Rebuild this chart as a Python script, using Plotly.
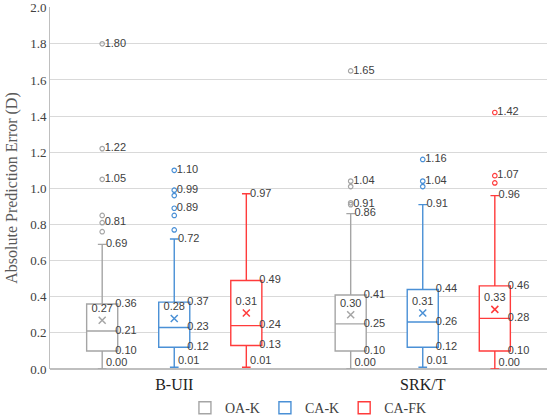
import plotly.graph_objects as go

# Data
groups = ["B-UII", "SRK/T"]
series = ["OA-K", "CA-K", "CA-FK"]
colors = {"OA-K": "#a5a5a5", "CA-K": "#4a90d6", "CA-FK": "#ff3b3b"}
y_ticks = [0.0, 0.2, 0.4, 0.6, 0.8, 1.0, 1.2, 1.4, 1.6, 1.8, 2.0]

lows = {"OA-K": [0.00, 0.00], "CA-K": [0.01, 0.01], "CA-FK": [0.01, 0.00]}
q1s = {"OA-K": [0.10, 0.10], "CA-K": [0.12, 0.12], "CA-FK": [0.13, 0.10]}
medians = {"OA-K": [0.21, 0.25], "CA-K": [0.23, 0.26], "CA-FK": [0.24, 0.28]}
q3s = {"OA-K": [0.36, 0.41], "CA-K": [0.37, 0.44], "CA-FK": [0.49, 0.46]}
highs = {"OA-K": [0.69, 0.86], "CA-K": [0.72, 0.91], "CA-FK": [0.97, 0.96]}
means = {"OA-K": [0.27, 0.30], "CA-K": [0.28, 0.31], "CA-FK": [0.31, 0.33]}

outliers = {
    "OA-K": [[0.76, 0.81, 0.85, 1.05, 1.22, 1.80], [0.91, 0.92, 1.01, 1.04, 1.65]],
    "CA-K": [[0.77, 0.85, 0.89, 0.96, 0.99, 1.10], [1.01, 1.04, 1.16]],
    "CA-FK": [[], [1.03, 1.07, 1.42]],
}
outlier_labels = {
    "OA-K": [[0.81, 1.05, 1.22, 1.80], [0.91, 1.04, 1.65]],
    "CA-K": [[0.89, 0.99, 1.10], [1.04, 1.16]],
    "CA-FK": [[], [1.07, 1.42]],
}

# layout of the boxes inside each category
spacing = 0.29
box_w = 0.125
lab_font = dict(family="Liberation Sans, Arial", size=11, color="#404040")

fig = go.Figure()

for k, s in enumerate(series):
    col = colors[s]
    xs = [g + (k - 1) * spacing for g in range(len(groups))]

    fig.add_trace(go.Box(
        x=xs, q1=q1s[s], median=medians[s], q3=q3s[s],
        lowerfence=lows[s], upperfence=highs[s],
        name=s, width=box_w, whiskerwidth=0.28,
        line=dict(color=col, width=1.4), fillcolor="white",
        boxpoints=False, hoverinfo="skip",
    ))

    # mean markers and labels
    fig.add_trace(go.Scatter(
        x=xs, y=means[s], mode="markers+text",
        marker=dict(symbol="x-thin-open", size=7, color=col, line=dict(color=col, width=1.5)),
        text=[f"{v:.2f}" for v in means[s]], textposition="top center",
        textfont=lab_font, showlegend=False, cliponaxis=False, hoverinfo="skip",
    ))

    # outliers
    ox, oy = [], []
    lx, ly = [], []
    for g, x in enumerate(xs):
        ox += [x] * len(outliers[s][g])
        oy += outliers[s][g]
        lx += [x] * len(outlier_labels[s][g])
        ly += outlier_labels[s][g]
    fig.add_trace(go.Scatter(
        x=ox, y=oy, mode="markers",
        marker=dict(symbol="circle-open", size=4.5, color=col, line=dict(width=1.2)),
        showlegend=False, hoverinfo="skip",
    ))
    fig.add_trace(go.Scatter(
        x=[x + 0.01 for x in lx], y=ly, mode="text",
        text=[f"{v:.2f}" for v in ly], textposition="middle right",
        textfont=lab_font, showlegend=False, cliponaxis=False, hoverinfo="skip",
    ))

    # whisker end labels
    wx = [x + 0.015 for x in xs] * 2
    wy = highs[s] + lows[s]
    fig.add_trace(go.Scatter(
        x=wx, y=wy, mode="text",
        text=[f"{v:.2f}" for v in wy],
        textposition=["middle right"] * 2 + ["top right"] * 2,
        textfont=lab_font, showlegend=False, cliponaxis=False, hoverinfo="skip",
    ))

    # box edge labels
    bx = [x + box_w / 2 - 0.01 for x in xs] * 3
    by = q3s[s] + medians[s] + q1s[s]
    fig.add_trace(go.Scatter(
        x=bx, y=by, mode="text",
        text=[f"{v:.2f}" for v in by], textposition="middle right",
        textfont=lab_font, showlegend=False, cliponaxis=False, hoverinfo="skip",
    ))

fig.update_layout(
    width=550, height=419,
    margin=dict(l=50, r=3, t=7, b=50, autoexpand=False),
    paper_bgcolor="white", plot_bgcolor="white",
    font=dict(family="Liberation Serif, serif", color="#404040"),
    showlegend=True,
    legend=dict(orientation="h", x=0.52, xanchor="center", yref="container",
                y=0.026, yanchor="middle",
                font=dict(family="Liberation Serif, serif", size=14, color="#404040"),
                itemwidth=30, traceorder="normal"),
    xaxis=dict(range=[-0.5, 1.5], tickmode="array", tickvals=[0, 1], ticktext=groups,
               showgrid=False, zeroline=False, showline=False, ticks="",
               ticklabelstandoff=4, automargin=False,
               tickfont=dict(family="Liberation Serif, serif", size=16, color="#222222")),
    yaxis=dict(range=[0, 2.004], tickmode="array", tickvals=y_ticks,
               ticktext=[f"{v:.1f}" for v in y_ticks], automargin=False,
               showgrid=True, gridcolor="#d9d9d9", gridwidth=1,
               zeroline=True, zerolinecolor="#bfbfbf", zerolinewidth=1.5,
               showline=True, linecolor="#bfbfbf", linewidth=1,
               tickfont=dict(family="Liberation Serif, serif", size=13, color="#404040"),
               title=dict(text="Absolute Prediction Error (D)", standoff=8,
                          font=dict(family="Liberation Serif, serif", size=16, color="#595959"))),
)

# remove the page margin so the figure sits at the window's corner
fig.write_html("out.html", config={"displayModeBar": False},
               post_script="document.body.style.margin='0';")
